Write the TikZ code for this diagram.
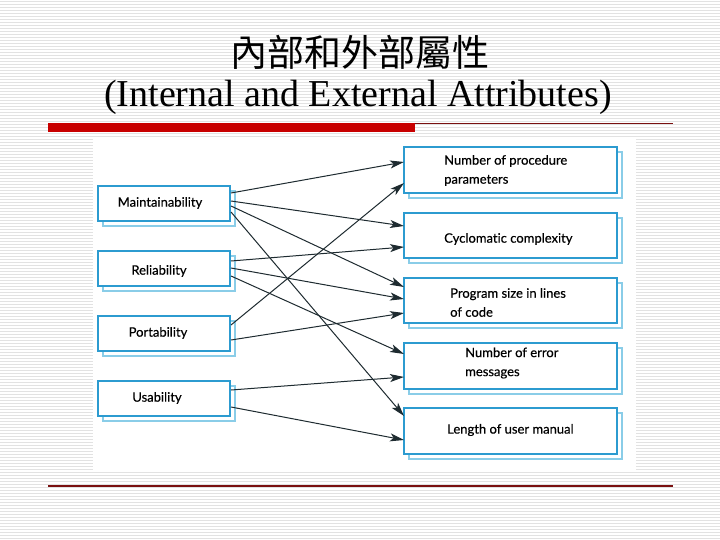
\documentclass[tikz,border=0pt]{standalone}
\usepackage{fontspec}
\setmainfont{Liberation Serif}
\newfontfamily\boxfont[FakeBold=0.4,Ligatures={NoCommon}]{Lato}
\newfontfamily\cjkfont{Noto Sans CJK TC}
\usetikzlibrary{arrows.meta}
\definecolor{boxblue}{HTML}{2C9BD0}
\definecolor{shadowblue}{HTML}{8ACDE8}
\definecolor{arrowcol}{HTML}{1E2B30}
\definecolor{barred}{HTML}{C80000}
\definecolor{linered}{HTML}{7A1010}
\definecolor{stripe}{HTML}{E2E2E2}
\tikzset{
  boxnode/.style={draw=boxblue, line width=2.2pt, fill=white, minimum width=#1, inner sep=0pt, outer sep=0pt},
  shadowbox/.style={draw=shadowblue, line width=1.4pt, fill=white},
  lbl/.style={font=\boxfont\fontsize{13}{19}\selectfont, inner sep=0pt, align=left, text=black},
  arr/.style={draw=arrowcol, line width=1pt, -{Stealth[length=14pt,width=8pt,inset=3.5pt]}},
}
\begin{document}
\begin{tikzpicture}[x=1pt,y=-1pt]
\useasboundingbox (0,0) rectangle (720,540);
% background stripes
\fill[white] (0,0) rectangle (720,540);
\foreach \k in {0,...,179} {
  \draw[stripe, line width=1pt] (0,{\k*3+1.5}) -- (720,{\k*3+1.5});
}
% title
\node[font=\cjkfont\fontsize{37}{40}\selectfont] (t1) at (360,52) {內部和外部屬性};
\node[font=\fontsize{38}{40}\selectfont] (t2) at (358,97) {(Internal and External Attributes)};
% rules
\fill[barred] (48,123.5) rectangle (415,132.5);
\draw[linered, line width=1pt] (415,124) -- (673,124);
\draw[linered, line width=1.5pt] (48,486) -- (673,486);
% picture area
\fill[white] (93,138) rectangle (636,472);
% shadows
\foreach \xa/\ya/\xb/\yb in {98/186/230/221, 98/251/230/286, 98/316/230/351, 98/381/230/416,
  404/147/617/193, 404/213/617/258, 404/278/617/323, 404/343/617/389, 404/408/617/454} {
  \draw[shadowbox] (\xa+5,\ya+5) rectangle (\xb+5,\yb+5);
}
% left boxes
\node[boxnode=132pt, minimum height=35pt] (m) at (164,203.5) {};
\node[boxnode=132pt, minimum height=35pt] (r) at (164,268.5) {};
\node[boxnode=132pt, minimum height=35pt] (p) at (164,333.5) {};
\node[boxnode=132pt, minimum height=35pt] (u) at (164,398.5) {};
% right boxes
\node[boxnode=213pt, minimum height=46pt] (npp) at (510.5,170) {};
\node[boxnode=213pt, minimum height=45pt] (cc) at (510.5,235.5) {};
\node[boxnode=213pt, minimum height=45pt] (ps) at (510.5,300.5) {};
\node[boxnode=213pt, minimum height=46pt] (nem) at (510.5,366) {};
\node[boxnode=213pt, minimum height=46pt] (lum) at (510.5,431) {};
% labels
\node[lbl] (lm) at (160,203) {Maintainability};
\node[lbl] (lr) at (159,271) {Reliability};
\node[lbl] (lp) at (158,333) {Portability};
\node[lbl] (lu) at (157,398) {Usability};
\node[lbl, anchor=west] (lnpp) at (444,170.5) {Number of procedure\\parameters};
\node[lbl, anchor=west] (lcc) at (444,239) {Cyclomatic complexity};
\node[lbl, anchor=west] (lps) at (450,302.5) {Program size in lines\\of code};
\node[lbl, anchor=west] (lnem) at (465,363) {Number of error\\messages};
\node[lbl, anchor=west] (llum) at (447,430) {Length of user manual};
% connectors
\draw[arr] ([yshift=10.5pt,xshift=1pt]m.east) -- ([yshift=8pt]npp.west);
\draw[arr] ([yshift=2.5pt,xshift=1pt]m.east) -- ([yshift=9.5pt]cc.west);
\draw[arr] ([yshift=-2.5pt,xshift=1pt]m.east) -- ([yshift=13.5pt]ps.west);
\draw[arr] ([yshift=-8.5pt,xshift=1pt]m.east) -- ([yshift=15pt]lum.west);
\draw[arr] ([yshift=7.5pt,xshift=1pt]r.east) -- ([yshift=-11.5pt]cc.west);
\draw[arr] ([yshift=0.5pt,xshift=1pt]r.east) -- ([yshift=1.5pt]ps.west);
\draw[arr] ([yshift=-7.5pt,xshift=1pt]r.east) -- ([yshift=12pt]nem.west);
\draw[arr] ([yshift=8.5pt,xshift=1pt]p.east) -- ([yshift=-13pt]npp.west);
\draw[arr] ([yshift=-6.5pt,xshift=1pt]p.east) -- ([yshift=-12.5pt]ps.west);
\draw[arr] ([yshift=8.5pt,xshift=1pt]u.east) -- ([yshift=-11pt]nem.west);
\draw[arr] ([yshift=-8.5pt,xshift=1pt]u.east) -- ([yshift=-9pt]lum.west);
\end{tikzpicture}
\end{document}
